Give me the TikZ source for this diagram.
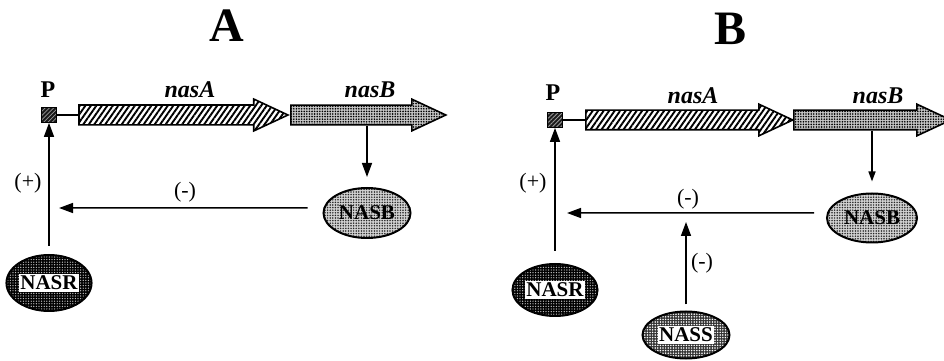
\documentclass[tikz,border=0pt]{standalone}
\usepackage{fontspec}
\setmainfont{Liberation Serif}
\usetikzlibrary{arrows.meta,shapes.geometric,shapes.arrows,patterns,patterns.meta}

% white tag behind the names on the dark proteins
\newcommand{\tagbox}[1]{{\setlength{\fboxsep}{1.5bp}\colorbox{white}{#1}}}

\tikzset{
  title/.style={font=\fontsize{48bp}{48bp}\selectfont\bfseries},
  plbl/.style={font=\fontsize{24bp}{24bp}\selectfont\bfseries},
  genelbl/.style={font=\fontsize{24bp}{24bp}\selectfont\bfseries\itshape},
  sign/.style={font=\fontsize{22bp}{22bp}\selectfont},
  prom/.style={draw, line width=0.8bp, minimum size=15bp, inner sep=0pt,
    preaction={fill=black!90}, pattern={Lines[angle=45,distance=3bp,line width=0.8bp]},
    pattern color=white!60!black},
  gene/.style={single arrow, draw, line width=1.6bp, inner xsep=0pt, inner ysep=9bp,
    minimum width=0pt, single arrow head extend=6bp, single arrow tip angle=50,
    anchor=tail, preaction={fill=white}},
  stripes/.style={pattern={Lines[angle=55,distance=4.5bp,line width=1.9bp]}},
  speckle/.style={preaction={fill=gray!45}, pattern={Dots[distance=2.6bp,radius=0.9bp]}},
  prot/.style={draw, ellipse, line width=2bp, inner sep=0pt, minimum width=87bp,
    minimum height=50bp, font=\fontsize{21bp}{21bp}\selectfont\bfseries},
  light/.style={preaction={fill=gray!35}, pattern={Dots[distance=2.6bp,radius=0.85bp]},
    pattern color=black!85},
  dark/.style={preaction={fill=black}, pattern={Dots[distance=2.6bp,radius=0.7bp]},
    pattern color=white!75!black},
  medium/.style={preaction={fill=black!80}, pattern={Dots[distance=2.6bp,radius=0.85bp]},
    pattern color=white},
}

\begin{document}
\begin{tikzpicture}[>={Triangle[length=14bp,width=10bp]}, line width=1.5bp]
\useasboundingbox (0,0) rectangle (944bp,361bp);
%% A
  \node (tA) at (227bp,335bp) [title] {A};
  \node (pA) at (49bp,246bp) [prom] {};
  \node (pAl) at (48bp,271bp) [plbl] {P};
  \node (nasAA) at (78bp,246bp) [gene, stripes, minimum height=209bp] {};
  \node (nasBA) at (290bp,246bp) [gene, speckle, minimum height=155bp] {};
  \node (nasAAl) at (190bp,271bp) [genelbl] {nasA};
  \node (nasBAl) at (370bp,271bp) [genelbl] {nasB};
  \node (nasbA) at (367bp,148bp) [prot, light] {NASB};
  \node (nasrA) at (49bp,78bp) [prot, dark, minimum width=84bp, minimum height=56bp] {\tagbox{NASR}};
  \coordinate (jA) at (49bp,153bp);
  \draw [line width=1.2bp] (pA) -- (nasAA.tail);
  \draw [->, shorten <=8bp] (nasrA.north) -- (pA.south);
  \draw [->, shorten >=10bp] (nasbA.north |- nasBA.south) -- (nasbA.north);
  \draw [->, shorten <=15bp, shorten >=10bp] ([yshift=5bp]nasbA.west) -- (jA);
  \node (sgnA1) at (28bp,178bp) [sign] {(+)};
  \node (sgnA2) at (185bp,169bp) [sign] {(-)};
%% B
  \node (tB) at (730bp,332bp) [title] {B};
  \node (pB) at (555bp,241bp) [prom] {};
  \node (pBl) at (553bp,268bp) [plbl] {P};
  \node (nasAB) at (585bp,241bp) [gene, stripes, minimum height=207bp] {};
  \node (nasBB) at (793bp,241bp) [gene, speckle, minimum height=157bp] {};
  \node (nasABl) at (693bp,265bp) [genelbl] {nasA};
  \node (nasBBl) at (878bp,265bp) [genelbl] {nasB};
  \node (nasbB) at (872bp,143bp) [prot, light, minimum width=90bp, minimum height=49bp] {NASB};
  \node (nasrB) at (555bp,71bp) [prot, dark, minimum width=83bp, minimum height=52bp] {\tagbox{NASR}};
  \node (nassB) at (686bp,26bp) [prot, medium, minimum height=47bp] {\tagbox{NASS}};
  \coordinate (jB) at (555bp,148bp);
  \coordinate (kB) at (686bp,148bp);
  \draw [line width=1.2bp] (pB) -- (nasAB.tail);
  \draw [->, shorten <=12bp] (nasrB.north) -- (pB.south);
  \draw [->, >={Triangle[length=10bp,width=7bp]}, shorten >=11bp] (nasbB.north |- nasBB.south) -- (nasbB.north);
  \draw [->, shorten <=12bp, shorten >=12bp] ([yshift=5bp]nasbB.west) -- (jB);
  \draw [->, shorten <=6bp, shorten >=9bp] (nassB.north) -- (kB);
  \node (sgnB1) at (533bp,178bp) [sign] {(+)};
  \node (sgnB2) at (688bp,162bp) [sign] {(-)};
  \node (sgnB3) at (702bp,98bp) [sign] {(-)};
%
\end{tikzpicture}
\end{document}
